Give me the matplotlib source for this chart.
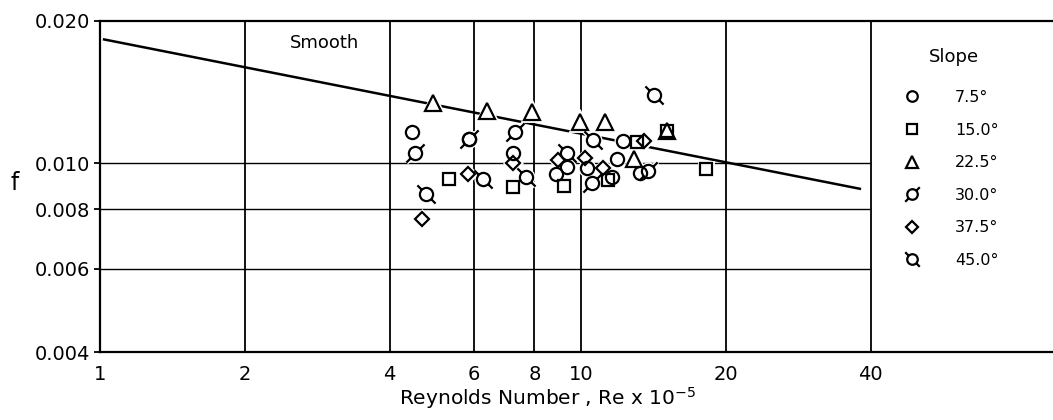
import numpy as np
import matplotlib
matplotlib.use("Agg")
import matplotlib.pyplot as plt
from matplotlib.path import Path

# ---------------- data ----------------
re_75 = [4.45, 7.22, 5.85, 9.35, 8.87, 10.29, 11.88, 11.60, 13.27, 12.23]
f_75 = [0.01163, 0.01050, 0.01124, 0.00981, 0.00948, 0.00976, 0.01020, 0.00934, 0.00953, 0.01113]

re_150 = [5.32, 7.22, 9.22, 11.38, 13.08, 15.10, 18.19]
f_150 = [0.00925, 0.00890, 0.00894, 0.00921, 0.01108, 0.01169, 0.00971]

re_225 = [4.92, 6.38, 7.91, 9.95, 11.22, 12.89, 15.10]
f_225 = [0.01339, 0.01288, 0.01282, 0.01221, 0.01221, 0.01020, 0.01169]

re_300 = [4.52, 5.85, 7.29, 10.54, 13.79]
f_300 = [0.01050, 0.01124, 0.01163, 0.00907, 0.00962]

re_375 = [4.67, 5.82, 7.22, 8.96, 10.19, 11.11, 13.52]
f_375 = [0.00765, 0.00948, 0.01000, 0.01015, 0.01025, 0.00976, 0.01113]

re_450 = [4.76, 6.26, 7.69, 10.59, 9.35, 14.19]
f_450 = [0.00860, 0.00925, 0.00934, 0.01119, 0.01050, 0.01393]

smooth_re = [1.02, 38.0]
smooth_f = [0.01826, 0.00884]

slope_labels = ["7.5°", "15.0°", "22.5°", "30.0°", "37.5°", "45.0°"]
x_ticks = [1, 2, 4, 6, 8, 10, 20, 40]
x_ticklabels = ["1", "2", "4", "6", "8", "10", "20", "40"]
y_ticks = [0.004, 0.006, 0.008, 0.010, 0.020]
y_ticklabels = ["0.004", "0.006", "0.008", "0.010", "0.020"]
x_grid = [2, 4, 6, 8, 10, 20, 40]
y_grid = [0.006, 0.008, 0.010]

# ---------------- custom markers ----------------
TAIL = 1.95

def tailed_circle(angle_deg):
    circ = Path.unit_circle()
    a = np.deg2rad(angle_deg)
    d = np.array([np.cos(a), np.sin(a)])
    t1 = Path([d * 1.0, d * TAIL])
    t2 = Path([-d * 1.0, -d * TAIL])
    return Path.make_compound_path(circ, t1, t2)

m30 = tailed_circle(45)
m45 = tailed_circle(135)
tail_scale = TAIL * np.cos(np.deg2rad(45))
circ_ms = 9.5

series = [
    (re_75, f_75, "o", circ_ms),
    (re_150, f_150, "s", 9.0),
    (re_225, f_225, "^", 11.0),
    (re_300, f_300, m30, circ_ms * tail_scale),
    (re_375, f_375, "D", 7.5),
    (re_450, f_450, m45, circ_ms * tail_scale),
]

# ---------------- figure ----------------
fig = plt.figure(figsize=(10.53, 4.2), dpi=100)
ax = fig.add_axes([100 / 1053, 1 - 352 / 420, 953 / 1053, (352 - 20.7) / 420])
ax.set_xscale("log")
ax.set_yscale("log")
ax.set_xlim(1, 95.8)
ax.set_ylim(0.004, 0.020)

# grid lines (only up to Re = 40)
ax.vlines(x_grid, 0.004, 0.020, colors="black", linewidth=1.3, zorder=1)
ax.hlines(y_grid, 1, 40, colors="black", linewidth=1.0, zorder=1)

# smooth line
ax.plot(smooth_re, smooth_f, color="black", linewidth=1.8, zorder=2)
ax.text(2.48, 0.0175, "Smooth", fontsize=13, ha="left", va="baseline", zorder=5)

handles = []
for (xs, ys, mk, ms) in series:
    # white knock-out behind the marker to break the line
    ax.plot(xs, ys, linestyle="none", marker=mk, markersize=ms,
            markerfacecolor="white", markeredgecolor="white",
            markeredgewidth=3.5, zorder=2.5)
    h, = ax.plot(xs, ys, linestyle="none", marker=mk, markersize=ms,
                 markerfacecolor="none", markeredgecolor="black",
                 markeredgewidth=1.6, zorder=3)
    handles.append(h)

# axes styling
for s in ["left", "top", "bottom"]:
    ax.spines[s].set_linewidth(1.6)
ax.spines["right"].set_visible(False)

ax.xaxis.set_major_locator(matplotlib.ticker.FixedLocator(x_ticks))
ax.xaxis.set_major_formatter(matplotlib.ticker.FixedFormatter(x_ticklabels))
ax.xaxis.set_minor_locator(matplotlib.ticker.NullLocator())
ax.yaxis.set_major_locator(matplotlib.ticker.FixedLocator(y_ticks))
ax.yaxis.set_major_formatter(matplotlib.ticker.FixedFormatter(y_ticklabels))
ax.yaxis.set_minor_locator(matplotlib.ticker.NullLocator())
ax.tick_params(axis="x", length=0, pad=9, labelsize=14)
ax.tick_params(axis="y", length=4, width=1.3, pad=3, labelsize=14)

ax.set_xlabel("Reynolds Number , Re x 10$^{-5}$", fontsize=14.5)
ax.xaxis.set_label_coords(0.47, -0.10)
ax.set_ylabel("f", fontsize=17, rotation=0)
ax.yaxis.set_label_coords(-0.089, 0.475)

fig.text(954 / 1053, 1 - 57 / 420, "Slope", fontsize=13, ha="center", va="center")
leg = ax.legend(handles, slope_labels, frameon=False,
                loc="upper left", bbox_to_anchor=(904 / 1053, 1 - 90 / 420),
                bbox_transform=fig.transFigure, fontsize=11.5,
                markerscale=0.8, handlelength=1.0, handletextpad=2.2,
                labelspacing=1.1, borderpad=0, borderaxespad=0)

fig.savefig("out.png", dpi=100)
